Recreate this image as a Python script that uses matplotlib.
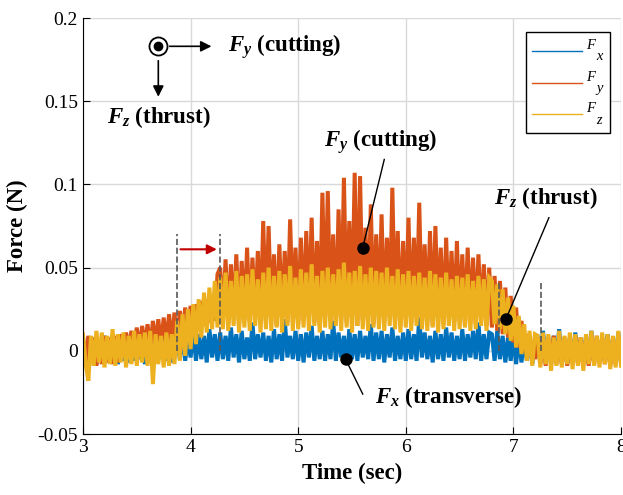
import numpy as np
import matplotlib
matplotlib.use("Agg")
import matplotlib.pyplot as plt
from matplotlib.lines import Line2D

plt.rcParams['font.family'] = 'Liberation Serif'
plt.rcParams['mathtext.fontset'] = 'custom'
plt.rcParams['mathtext.it'] = 'Liberation Serif:italic:bold'
plt.rcParams['mathtext.rm'] = 'Liberation Serif:bold'

# sample times (sec), 0.025 s step from 3 to 8
time = np.arange(201) * 0.025 + 3.0

# forces in mN (alternating peaks/troughs of the noisy signal)
fx_mN = [6, -7, 8, -5, 7, -8, 5, -6, 9, -7, 6, -5, 8, -8, 7, -6, 5, -7, 8, -6,
         7, -5, 6, -8, 9, -6, 5, -7, 7, -5, 8, -6, 6, -7, 7,
         9, -5, 11, -6, 8, -4, 12, -6, 10, -5, 9, -7, 13, -4, 10, -6,
         11, -5, 9, -6, 14, -4, 10, -7, 12, -5,
         8, -6, 17, -5, 10, -4, 11, -6, 9, -7,
         13, -5, 10, -6, 19, -4, 9, -5, 12, -6,
         10, -7, 11, -4, 15, -6, 9, -5, 12, -6,
         10, -5, 18, -6, 11, -4, 9, -7, 13, -5,
         10, -6, 12, -4, 9, -5, 16, -6, 11, -5,
         12, -7, 10, -4, 14, -6, 9, -5, 11, -6,
         13, -5, 10, -6, 20, -4, 11, -5, 9, -7,
         12, -5, 10, -6, 14, -4, 11, -6, 9, -5,
         13, -6, 10, -4, 12, -5, 17, -6, 10, -5,
         11,
         10, -6, 12, -5, 9, -7, 8, -6, 10, -8, 9, -7, 8, -6, 9, -8, 7,
         8, -7, 12, -6, 7, -8, 9, -5, 13, -7, 6, -8, 8, -6, 11, -7,
         7, -6, 9, -8, 12, -5, 7, -7, 8, -6, 10, -8, 7, -6, 11, -7]

fy_mN = [8, -8, 9, -7, 8, -9, 7, -8, 9, -7, 8, -8, 9, -7,
         10, -1, 11, 0, 12, 1, 14, 0, 15, 2, 16, 1, 18, 3, 19, 2, 20, 4, 22, 3, 23,
         5, 24, 8, 26, 10, 27, 12, 28, 14, 30, 15, 31, 17, 33, 18, 46,
         50, 18, 55, 16, 52, 20, 58, 15, 54, 19,
         62, 17, 56, 21, 60, 16, 78, 18, 75, 20,
         58, 15, 64, 19, 60, 17, 79, 22, 62, 16,
         68, 18, 72, 20, 80, 17, 66, 15, 95, 21,
         96, 18, 70, 16, 85, 19, 104, 17, 78, 20,
         107, 15, 105, 18, 74, 21, 88, 16, 70, 19,
         82, 17, 68, 20, 98, 18, 72, 15, 66, 19,
         80, 16, 68, 21, 89, 17, 64, 18, 72, 15,
         75, 20, 62, 16, 68, 19, 60, 17, 66, 18,
         58, 15, 62, 17, 56, 16, 58, 18, 52, 15,
         50,
         14, 45, 12, 42, 10, 38, 8, 33, 5, 26, 2, 18, -1, 10, -3, 6, -5,
         8, -8, 7, -9, 8, -7, 9, -8, 7, -8, 8, -9, 7, -7, 9, -8,
         8, -7, 7, -9, 8, -8, 9, -7, 7, -8, 8, -9, 7, -8, 9, -7]

fz_mN = [10, -8, -18, 9, -9, 12, -7, 11, -10, 9, -8, 13, -9, 10, -7, 11, -10, 9,
         -8, 12, -9, 10, -7, 11, -9, 12, -20, 10, -8, 9, -10, 11, -9, 10, -8,
         18, -6, 22, -3, 25, 1, 28, 4, 31, 8, 35, 11, 38, 13, 42, 14,
         44, 13, 47, 12, 42, 15, 48, 11, 45, 14,
         46, 12, 49, 15, 43, 11, 47, 13, 50, 12,
         45, 14, 48, 11, 46, 15, 51, 12, 44, 13,
         49, 14, 47, 12, 52, 15, 45, 11, 48, 14,
         50, 13, 46, 15, 49, 12, 53, 14, 47, 11,
         48, 15, 51, 13, 46, 12, 50, 14, 48, 13,
         47, 12, 50, 15, 45, 13, 49, 11, 46, 14,
         48, 12, 45, 15, 47, 13, 44, 12, 48, 14,
         46, 11, 44, 13, 47, 15, 43, 12, 45, 13,
         44, 14, 46, 12, 42, 13, 45, 15, 43, 12,
         44,
         42, 16, 40, 13, 37, 10, 32, 6, 27, 2, 21, -2, 16, -6, 12, -9, 10,
         9, -10, 11, -8, 10, -12, 8, -9, 12, -10, 9, -8, 11, -11, 10, -9,
         8, -12, 10, -8, 12, -9, 9, -10, 11, -8, 10, -11, 9, -10, 12, -9]

fx = np.array(fx_mN) / 1000
fy = np.array(fy_mN) / 1000
fz = np.array(fz_mN) / 1000

colors = ['#0072BD', '#D95319', '#EDB120']
labels = ['F\n   x', 'F\n   y', 'F\n   z']

fig = plt.figure(figsize=(6.23, 4.95), dpi=100)
ax = fig.add_axes([0.1332, 0.1232, 0.8636, 0.8404])

# thick strokes so the fast zigzag reads as a dense noise band
for series, c in zip([fx, fy, fz], colors):
    ax.plot(time, series, color=c, lw=2.9, solid_joinstyle='miter')

ax.set_xlim(3, 8)
ax.set_ylim(-0.05, 0.2)
ax.set_xticks([3, 4, 5, 6, 7, 8])
ax.set_yticks([-0.05, 0, 0.05, 0.1, 0.15, 0.2])
ax.set_yticklabels(['-0.05', '0', '0.05', '0.1', '0.15', '0.2'])
ax.grid(True, color='#d9d9d9', lw=1)
ax.set_axisbelow(True)
for s in ['top', 'right']:
    ax.spines[s].set_visible(False)
ax.tick_params(direction='in', labelsize=14, length=5)
ax.set_xlabel('Time (sec)', fontsize=16.5, fontweight='bold', labelpad=5)
ax.set_ylabel('Force (N)', fontsize=16.5, fontweight='bold', labelpad=7)

# dashed markers of the transition zones
for xv in [3.87, 4.27]:
    ax.plot([xv, xv], [0.0, 0.07], ls='--', color='0.35', lw=1.2)
for xv in [6.87, 7.26]:
    ax.plot([xv, xv], [0.0, 0.042], ls='--', color='0.35', lw=1.2)
ax.annotate('', xy=(4.27, 0.061), xytext=(3.88, 0.061),
            arrowprops=dict(arrowstyle='-|>', color='#C00000', lw=1.5, mutation_scale=14))

# coordinate schematic
ax.plot(3.70, 0.183, 'o', ms=13, mfc='white', mec='black', mew=1.3)
ax.plot(3.70, 0.183, 'o', ms=6, color='black')
ax.annotate('', xy=(4.22, 0.183), xytext=(3.78, 0.183),
            arrowprops=dict(arrowstyle='-|>', color='black', lw=1.2, mutation_scale=16))
ax.annotate('', xy=(3.70, 0.151), xytext=(3.70, 0.176),
            arrowprops=dict(arrowstyle='-|>', color='black', lw=1.2, mutation_scale=16))
ax.text(4.35, 0.1827, r'$F_y$ (cutting)', fontsize=16.5, fontweight='bold', va='center')
ax.text(3.22, 0.1406, r'$F_z$ (thrust)', fontsize=16.5, fontweight='bold', va='center')

# callouts
ax.plot([5.80, 5.60], [0.115, 0.062], color='black', lw=1)
ax.plot(5.60, 0.062, 'o', color='black', ms=8)
ax.text(5.77, 0.126, r'$F_y$ (cutting)', fontsize=16.5, fontweight='bold', ha='center', va='center')
ax.plot([7.33, 6.93], [0.080, 0.019], color='black', lw=1)
ax.plot(6.93, 0.019, 'o', color='black', ms=8)
ax.text(7.30, 0.092, r'$F_z$ (thrust)', fontsize=16.5, fontweight='bold', ha='center', va='center')
ax.plot([5.60, 5.44], [-0.026, -0.005], color='black', lw=1)
ax.plot(5.44, -0.005, 'o', color='black', ms=8)
ax.text(6.40, -0.0280, r'$F_x$ (transverse)', fontsize=16.5, fontweight='bold', ha='center', va='center')

handles = [Line2D([], [], color=c, lw=1) for c in colors]
leg = ax.legend(handles, labels, loc='upper right', bbox_to_anchor=(0.9796, 0.966),
                borderaxespad=0,
                prop={'family': 'Liberation Serif', 'style': 'italic', 'size': 10.5},
                handlelength=3.4, labelspacing=0.5, borderpad=0.45, handletextpad=0.3,
                fancybox=False, framealpha=1, edgecolor='black')
leg.get_frame().set_linewidth(1)
for t in leg.get_texts():
    t.set_linespacing(0.85)

plt.savefig('out.png', dpi=100)
